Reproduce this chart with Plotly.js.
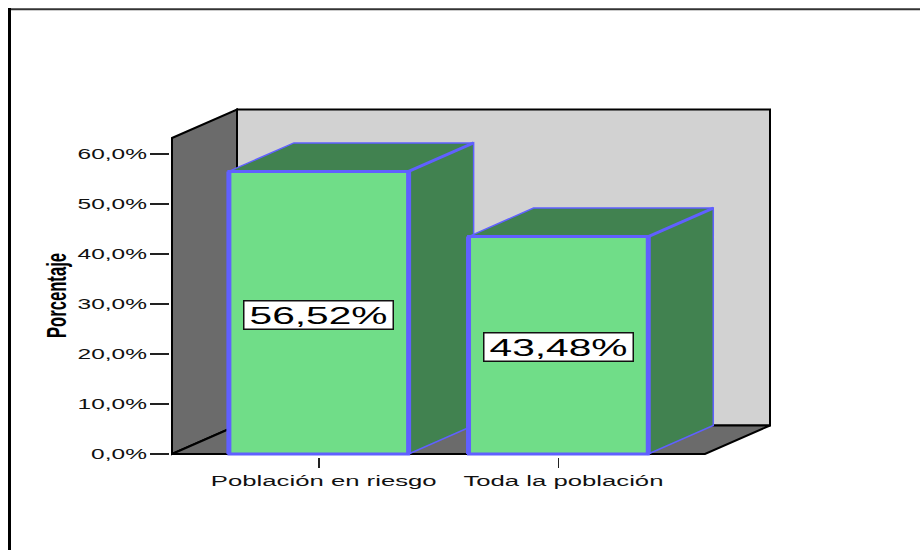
<!DOCTYPE html>
<html>
<head>
<meta charset="utf-8">
<script src="https://cdn.plot.ly/plotly-3.0.1.min.js"></script>
<style>html,body{margin:0;padding:0;background:#fff}#chart{width:920px;height:550px}</style>
</head>
<body>
<div id="chart"></div>
<script>
const categories = ["Población en riesgo", "Toda la población"];
const percentages = [56.52, 43.48];
const valueLabels = ["56,52%", "43,48%"];
const yTickValues = [0, 10, 20, 30, 40, 50, 60];
const yTickLabels = ["0,0%", "10,0%", "20,0%", "30,0%", "40,0%", "50,0%", "60,0%"];
const yTitle = "Porcentaje";

const W = 920, H = 550;
const pxPerCat = 239.65, pxPerVal = 5;
const x0px = 318.75, y0px = 454;
const plotL = 170, plotR = 773, plotT = 107, plotB = 457;
const xd = p => (p - x0px) / pxPerCat;
const yd = p => (y0px - p) / pxPerVal;

const barWidth = 0.75;
const depthX = 65 / pxPerCat, depthY = 28.5 / pxPerVal;
const wallLeft = xd(172), wallRight = xd(705), wallTop = yd(138);

const BLUE = "#6060ff", FRONT = "#70dd88", SIDE = "#418250";
const BACK = "#d2d2d2", GREY = "#6b6b6b", INK = "#000";

const poly = pts => "M" + pts.map(p => p[0] + "," + p[1]).join(" L") + " Z";
const line = pts => "M" + pts.map(p => p[0] + "," + p[1]).join(" L");
const dataShape = (path, fill, color, width, layer) => ({
  type: "path", path, xref: "x", yref: "y", layer: layer || "below",
  fillcolor: fill, line: {color: color, width: width}
});

const shapes = [];
shapes.push(dataShape(poly([[wallLeft + depthX, depthY], [wallRight + depthX, depthY],
  [wallRight + depthX, wallTop + depthY], [wallLeft + depthX, wallTop + depthY]]), BACK, INK, 2));
shapes.push(dataShape(poly([[wallLeft, 0], [wallLeft + depthX, depthY],
  [wallLeft + depthX, wallTop + depthY], [wallLeft, wallTop]]), GREY, INK, 2));
shapes.push(dataShape(poly([[wallLeft, 0], [wallRight, 0],
  [wallRight + depthX, depthY], [wallLeft + depthX, depthY]]), GREY, INK, 2));

percentages.forEach((v, i) => {
  const l = i - barWidth / 2, r = i + barWidth / 2;
  shapes.push(dataShape(poly([[r, 0], [r + depthX, depthY], [r + depthX, v + depthY], [r, v]]), SIDE, BLUE, 1.5));
  shapes.push(dataShape(poly([[l, v], [r, v], [r + depthX, v + depthY], [l + depthX, v + depthY]]), SIDE, BLUE, 1.5));
  shapes.push(dataShape(line([[r, v], [r + depthX, v + depthY]]), "rgba(0,0,0,0)", BLUE, 3));
  shapes.push(dataShape(line([[l, 0], [l, v]]), "rgba(0,0,0,0)", BLUE, 5, "above"));
  shapes.push(dataShape(line([[r, 0], [r, v]]), "rgba(0,0,0,0)", BLUE, 5, "above"));
});

const paperX = p => (p - plotL) / (plotR - plotL);
const paperY = p => (plotB - p) / (plotB - plotT);
shapes.push({type: "line", xref: "paper", yref: "paper", x0: paperX(8), x1: paperX(W), y0: paperY(9.3), y1: paperY(9.3),
  line: {color: "#333", width: 2}});
shapes.push({type: "line", xref: "paper", yref: "paper", x0: paperX(9.5), x1: paperX(9.5), y0: paperY(8), y1: paperY(H),
  line: {color: "#000", width: 3}});

const annotations = percentages.map((v, i) => ({
  x: i, y: v / 2, xref: "x", yref: "y", yshift: -2, text: valueLabels[i], showarrow: false,
  width: 148, height: 27, bgcolor: "#fff", bordercolor: "#111", borderwidth: 1.5, borderpad: 0,
  xanchor: "center", yanchor: "middle",
  font: {family: "Liberation Sans", size: 24.5, color: "#000"}
}));

const trace = {
  type: "bar", x: [0, 1], y: percentages, width: barWidth,
  marker: {color: FRONT, line: {color: BLUE, width: 3}},
  hoverinfo: "skip", cliponaxis: false
};

const layout = {
  width: W, height: H, autosize: false, showlegend: false,
  paper_bgcolor: "#fff", plot_bgcolor: "rgba(0,0,0,0)",
  margin: {l: plotL, r: W - plotR, t: plotT, b: H - plotB, pad: 0},
  font: {family: "Liberation Sans", color: "#111"},
  xaxis: {
    range: [xd(plotL), xd(plotR)], tickmode: "array", tickvals: [0, 1], ticktext: categories,
    ticks: "outside", ticklen: 10, tickwidth: 1.5, tickcolor: "#222",
    showgrid: false, zeroline: false, showline: false, ticklabelstandoff: 0,
    tickfont: {family: "Liberation Sans", size: 15.3, color: "#111"}
  },
  yaxis: {
    range: [yd(plotB), yd(plotT)], tickmode: "array", tickvals: yTickValues, ticktext: yTickLabels,
    ticks: "outside", ticklen: 19, tickwidth: 1.5, tickcolor: "#222",
    showgrid: false, zeroline: false, showline: false, ticklabelstandoff: 0,
    tickfont: {family: "Liberation Sans", size: 15.3, color: "#111"},
    title: {text: yTitle, font: {family: "Liberation Sans", size: 28, color: "#000"}}
  },
  shapes, annotations
};

function stretch(sel, factor) {
  document.querySelectorAll(sel).forEach(t => {
    t.setAttribute("textLength", t.getComputedTextLength() * factor);
    t.setAttribute("lengthAdjust", "spacingAndGlyphs");
  });
}

Plotly.newPlot("chart", [trace], layout, {displayModeBar: false, staticPlot: true}).then(() => {
  stretch(".xtick text", 1.68);
  stretch(".ytick text", 1.6);
  stretch(".annotation-text", 1.66);
  document.querySelectorAll(".xtick text").forEach(t => {
    t.setAttribute("x", parseFloat(t.getAttribute("x")) + 5);
  });
  const yt = document.querySelector(".ytitle");
  if (yt) {
    yt.style.fontWeight = "bold";
    yt.setAttribute("x", 74);
    yt.setAttribute("y", 295.5);
    yt.setAttribute("transform", "rotate(-90,74,295.5)");
    yt.setAttribute("textLength", 85);
    yt.setAttribute("lengthAdjust", "spacingAndGlyphs");
  }
});
</script>
</body>
</html>
